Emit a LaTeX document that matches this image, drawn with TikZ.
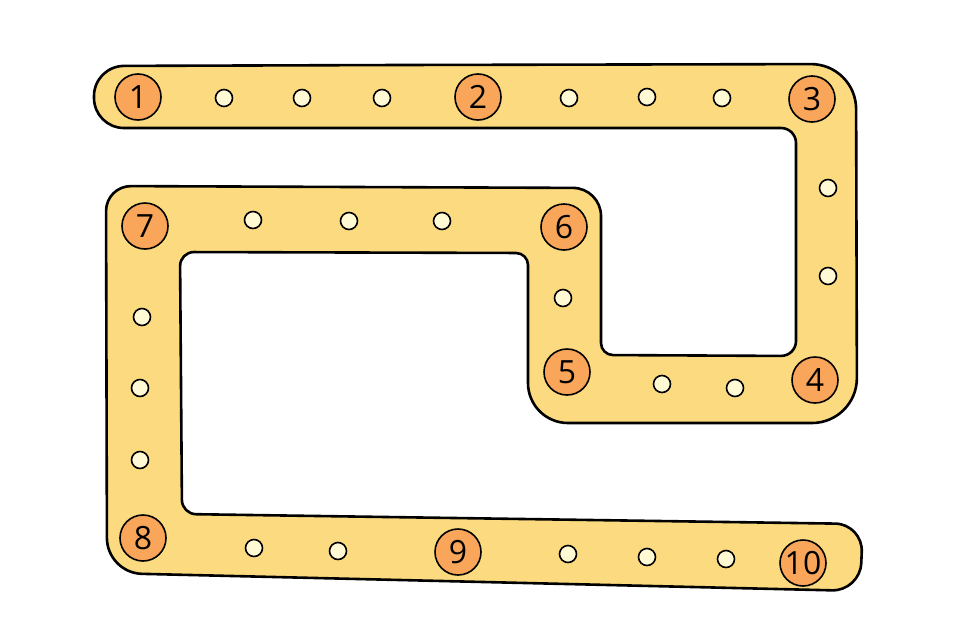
\documentclass[tikz,border=0pt]{standalone}
\usepackage{fontspec}
\setmainfont{Open Sans}
\usetikzlibrary{positioning}
\definecolor{bandyellow}{HTML}{FCDB80}
\definecolor{stationorange}{HTML}{F9A55A}
\definecolor{dotcream}{HTML}{FFF9D4}

\begin{document}
\begin{tikzpicture}[x=1pt, y=-1pt,
    station/.style={circle, fill=stationorange, draw=black, line width=1.6pt,
                    minimum size=46pt, inner sep=0pt,
                    font=\fontsize{32}{32}\selectfont},
    stop/.style={circle, fill=dotcream, draw=black, line width=1.6pt,
                 minimum size=17pt, inner sep=0pt}]
    \useasboundingbox (0,0) rectangle (960,640);

    % the winding band
    \draw[line width=2.6pt, fill=bandyellow, line join=round]
      (400,65)
      [rounded corners=45] -- (856,64)
      [rounded corners=45] -- (857,423)
      [rounded corners=40] -- (528,423)
      [rounded corners=12] -- (528,253)
      [rounded corners=14] -- (180,252)
      [rounded corners=14] -- (182,514)
      [rounded corners=28] -- (863,524)
      [rounded corners=28] -- (860,591)
      [rounded corners=35] -- (107,573)
      [rounded corners=25] -- (106,186)
      [rounded corners=28] -- (601,188)
      [rounded corners=12] -- (601,355)
      [rounded corners=15] -- (796,356)
      [rounded corners=15] -- (796,128)
      [rounded corners=30] -- (94,128)
      [rounded corners=30] -- (94,66)
      [sharp corners] -- cycle;

    % numbered stations
    \node[station](st1) at (138,97){1};
    \node[station](st2) at (478,97){2};
    \node[station](st3) at (812,99){3};
    \node[station](st4) at (815,380){4};
    \node[station](st5) at (567,372){5};
    \node[station](st6) at (564,227){6};
    \node[station](st7) at (145,226){7};
    \node[station](st8) at (143,538){8};
    \node[station](st9) at (458,552){9};
    \node[station](st10) at (803,563){10};

    % small stops
    \node[stop](dt1) at (224,98){};
    \node[stop](dt2) at (302,98){};
    \node[stop](dt3) at (382,98){};
    \node[stop](dt4) at (569,98){};
    \node[stop](dt5) at (647,97){};
    \node[stop](dt6) at (722,98){};
    \node[stop](dt7) at (828,188){};
    \node[stop](dt8) at (828,276){};
    \node[stop](dt9) at (735,388){};
    \node[stop](dt10) at (662,384){};
    \node[stop](dt11) at (563,298){};
    \node[stop](dt12) at (442,221){};
    \node[stop](dt13) at (349,221){};
    \node[stop](dt14) at (253,220){};
    \node[stop](dt15) at (142,317){};
    \node[stop](dt16) at (140,388){};
    \node[stop](dt17) at (140,460){};
    \node[stop](dt18) at (254,548){};
    \node[stop](dt19) at (338,551){};
    \node[stop](dt20) at (568,554){};
    \node[stop](dt21) at (647,557){};
    \node[stop](dt22) at (726,559){};
\end{tikzpicture}
\end{document}
